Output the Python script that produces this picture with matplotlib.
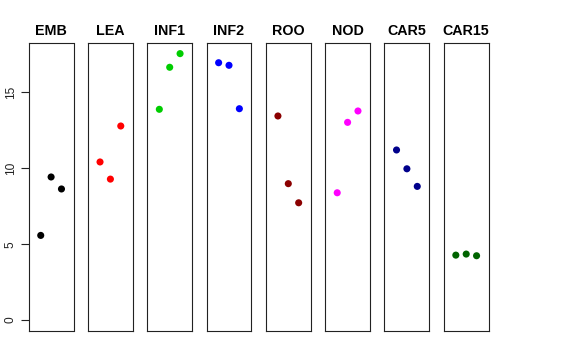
import matplotlib
matplotlib.use("Agg")
import matplotlib.pyplot as plt

groups = ["EMB", "LEA", "INF1", "INF2", "ROO", "NOD", "CAR5", "CAR15"]
colors = ["black", "#FF0000", "#00CD00", "#0000FF", "#8B0000", "#FF00FF", "#00008B", "#006400"]
values = {
    "EMB": [5.58, 9.43, 8.64],
    "LEA": [10.42, 9.29, 12.79],
    "INF1": [13.89, 16.66, 17.56],
    "INF2": [16.96, 16.79, 13.93],
    "ROO": [13.45, 8.99, 7.73],
    "NOD": [8.39, 13.03, 13.78],
    "CAR5": [11.21, 9.97, 8.81],
    "CAR15": [4.28, 4.35, 4.24],
}
yticks = [0, 5, 10, 15]
xpos = [1, 2, 3]

W, H = 576, 360
fig = plt.figure(figsize=(W / 100, H / 100), dpi=100)
left0 = 28.7
width = 44.8
step = 59.3
top, bottom = 43, 331
for i, g in enumerate(groups):
    x0 = left0 + i * step
    ax = fig.add_axes([x0 / W, 1 - bottom / H, width / W, (bottom - top) / H])
    ax.scatter(xpos, values[g], s=26, color=colors[i], edgecolors="none", zorder=3)
    ax.set_xlim(-0.16, 4.16)
    ax.set_ylim(-0.72, 18.26)
    ax.set_xticks([])
    for sp in ax.spines.values():
        sp.set_linewidth(0.8)
        sp.set_color("#222222")
    ax.set_title(g, fontsize=10.3, fontweight="bold", pad=5.5, family="Liberation Sans")
    if i == 0:
        ax.set_yticks(yticks)
        ax.set_yticklabels([str(t) for t in yticks], rotation=90, va="center",
                           fontsize=8.6, family="Liberation Sans")
        ax.tick_params(axis="y", length=5.5, width=0.8, pad=3, colors="#222222", labelcolor="#222222")
    else:
        ax.set_yticks([])

fig.savefig("out.png", dpi=100)
